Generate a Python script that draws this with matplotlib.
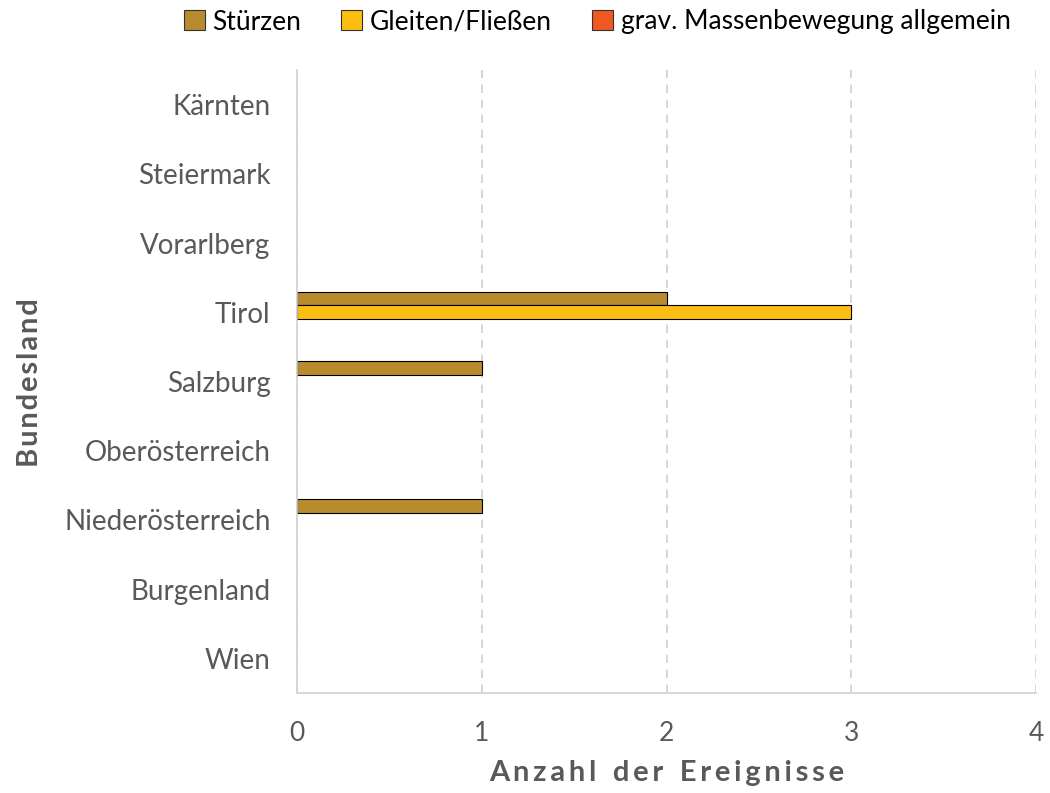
import matplotlib.pyplot as plt
import numpy as np
from matplotlib import rcParams

rcParams['font.family'] = ['Lato', 'DejaVu Sans']

laender = ["Wien", "Burgenland", "Niederösterreich", "Oberösterreich", "Salzburg",
           "Tirol", "Vorarlberg", "Steiermark", "Kärnten"]
stuerzen = [0, 0, 1, 0, 1, 2, 0, 0, 0]
gleiten = [0, 0, 0, 0, 0, 3, 0, 0, 0]
grav = [0, 0, 0, 0, 0, 0, 0, 0, 0]

series = ["Stürzen", "Gleiten/Fließen", "grav. Massenbewegung allgemein"]
colors = ["#B88C2E", "#FDBE14", "#F05A22"]


def spaced(txt, gap="\u200a\u200a"):
    # Buchstaben sperren, wie im Original
    return "\u2002\u200a".join(gap.join(w) for w in txt.split(" "))


fig = plt.figure(figsize=(10.5, 7.93), dpi=100)
ax = fig.add_axes([297 / 1050, 1 - 693 / 793, (1036 - 297) / 1050, (693 - 70) / 793])

y = np.arange(len(laender))
h = 0.2
for vals, off, c, lab in zip([stuerzen, gleiten, grav], [h, 0, -h], colors, series):
    vals = np.array(vals)
    m = vals > 0
    ax.barh(y[m] + off, vals[m], height=h, color=c, edgecolor='black', linewidth=0.8, label=lab)

ax.set_xlim(0, 4)
ax.set_ylim(-0.5, len(laender) - 0.5)
ax.set_yticks(y)
ax.set_yticklabels(laender, fontsize=20, color='#595959')
ax.set_xticks([0, 1, 2, 3, 4])
ax.set_xticklabels(['0', '1', '2', '3', '4'], fontsize=19, color='#595959')
ax.tick_params(axis='both', length=0)
ax.tick_params(axis='x', pad=20)
ax.tick_params(axis='y', pad=19)

ax.grid(axis='x', linestyle='--', color='#D0D0D0', linewidth=1.2, dashes=(5, 4))
ax.set_axisbelow(True)
for s in ['top', 'right']:
    ax.spines[s].set_visible(False)
for s in ['left', 'bottom']:
    ax.spines[s].set_color('#D0D0D0')
    ax.spines[s].set_linewidth(1.2)

ax.set_xlabel(spaced("Anzahl der Ereignisse"), fontsize=21, fontweight='bold', color='#595959', labelpad=10)
fig.text(30 / 1050, 1 - 383 / 793, spaced("Bundesland", "\u200a"), rotation=90, ha='center', va='center',
         fontsize=21, fontweight='bold', color='#595959')

handles = [plt.Rectangle((0, 0), 1, 1, facecolor=c, edgecolor='#333333', linewidth=0.8) for c in colors]
fig.legend(handles, series, loc='center', bbox_to_anchor=(597 / 1050, 1 - 22 / 793), ncol=3,
           frameon=False, fontsize=19, handlelength=0.8, handleheight=0.8, handletextpad=0.3,
           columnspacing=1.5)

plt.savefig("out.png", dpi=100)
